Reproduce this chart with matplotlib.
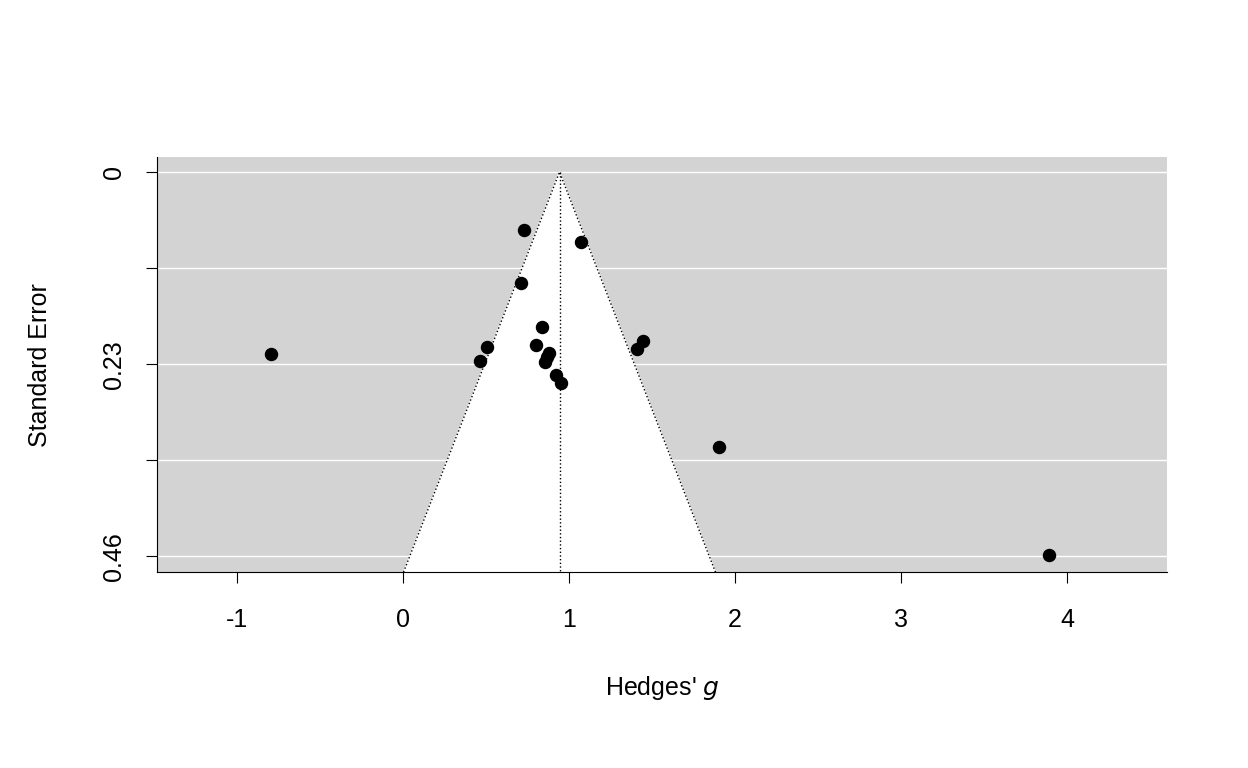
import numpy as np
import matplotlib
matplotlib.use("Agg")
from matplotlib import pyplot as plt

plt.rcParams['font.family'] = ['Liberation Sans', 'DejaVu Sans']
plt.rcParams['axes.unicode_minus'] = False

# effect sizes and standard errors
g = [0.727, 1.070, 0.709, 0.835, -0.795, 0.504, 0.462, 0.799, 0.877, 0.853,
     0.919, 0.949, 1.443, 1.407, 1.906, 3.892, 0.870]
se = [0.0695, 0.0839, 0.133, 0.186, 0.218, 0.210, 0.226, 0.207, 0.217, 0.228,
      0.243, 0.252, 0.202, 0.212, 0.329, 0.459, 0.222]
est = 0.943
yticks = [0, 0.115, 0.23, 0.345, 0.46]
ylabels = ["0", "", "0.23", "", "0.46"]

fig = plt.figure(figsize=(12.48, 7.68), dpi=100)
ax = fig.add_axes([0.1258, 0.255, 0.8093, 0.5406])
ylo, yhi = -0.018, 0.479
ax.set_xlim(-1.48, 4.60)
ax.set_ylim(yhi, ylo)
ax.set_facecolor('lightgray')
for t in yticks:
    ax.axhline(t, color='white', lw=1, zorder=1)

ax.fill([est - 1.96 * yhi, est, est + 1.96 * yhi], [yhi, 0, yhi], color='white', zorder=2)
ax.plot([est - 1.96 * yhi, est, est + 1.96 * yhi], [yhi, 0, yhi], 'k:', lw=1, zorder=3)
ax.plot([est, est], [0, yhi], 'k:', lw=1, zorder=3)
ax.scatter(g, se, s=75, color='black', zorder=4)

ax.set_yticks(yticks)
ax.set_yticklabels(ylabels, rotation=90, va='center')
ax.set_xticks([-1, 0, 1, 2, 3, 4])
ax.tick_params(labelsize=18, length=8)
ax.tick_params(axis='x', pad=18)
ax.tick_params(axis='y', pad=14)
for s in ['top', 'right']:
    ax.spines[s].set_visible(False)
ax.set_xlabel("Hedges' $\\it{g}$", fontsize=18, labelpad=30)
ax.set_ylabel("Standard Error", fontsize=18, labelpad=36)

fig.savefig("out.png", dpi=100)
